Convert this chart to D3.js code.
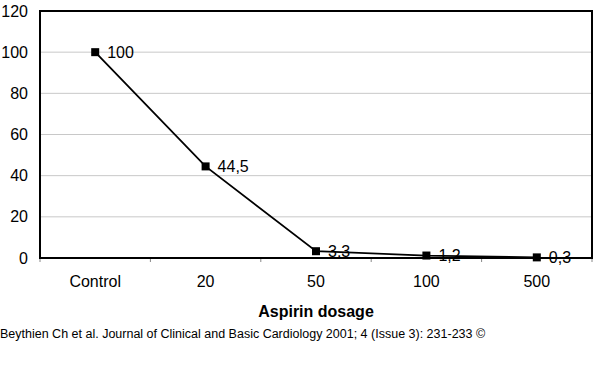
<!DOCTYPE html>
<html><head><meta charset="utf-8">
<script src="https://cdn.jsdelivr.net/npm/d3@7"></script>
<style>body{margin:0;background:#fff}svg{display:block}text{font-family:"Liberation Sans",Arial,sans-serif}</style>
</head><body>
<script>
const categories = ["Control","20","50","100","500"];
const values = [100, 44.5, 3.3, 1.2, 0.3];
const valueLabels = ["100","44,5","3,3","1,2","0,3"];
const yTicks = [0,20,40,60,80,100,120];
const xTitle = "Aspirin dosage";
const footer = "Beythien Ch et al. Journal of Clinical and Basic Cardiology 2001; 4 (Issue 3): 231-233 ©";

const W=600,H=383, L=40, R=592, T=11, B=258;
const svg=d3.select("body").append("svg").attr("width",W).attr("height",H);
const x=d3.scaleBand().domain(categories).range([L,R]);
const y=d3.scaleLinear().domain([0,120]).range([B,T]);

svg.append("g").selectAll("line").data(yTicks.filter(d=>d>0&&d<120)).join("line")
  .attr("x1",L).attr("x2",R).attr("y1",d=>y(d)).attr("y2",d=>y(d))
  .attr("stroke","#c8c8c8").attr("stroke-width",1);

const ya=svg.append("g").attr("transform",`translate(${L},0)`)
  .call(d3.axisLeft(y).tickValues(yTicks).tickSize(0).tickPadding(12));
ya.select(".domain").remove();
ya.selectAll("text").attr("font-size",16).attr("fill","#000").attr("font-family","Liberation Sans, Arial, sans-serif");

const xa=svg.append("g").attr("transform",`translate(0,${B})`)
  .call(d3.axisBottom(x).tickSize(0).tickPadding(18));
xa.select(".domain").remove();
xa.selectAll("text").attr("font-size",16).attr("fill","#000").attr("font-family","Liberation Sans, Arial, sans-serif");
svg.append("g").selectAll("line").data(categories.concat(["__end"])).join("line")
  .attr("x1",(d,i)=>i<categories.length?x(d):R).attr("x2",(d,i)=>i<categories.length?x(d):R)
  .attr("y1",B).attr("y2",B+4).attr("stroke","#888").attr("stroke-width",1);

svg.append("rect").attr("x",L).attr("y",T).attr("width",R-L).attr("height",B-T)
  .attr("fill","none").attr("stroke","#000").attr("stroke-width",2);

const cx=d=>x(d)+x.bandwidth()/2;
const line=d3.line().x((d,i)=>cx(categories[i])).y(d=>y(d));
svg.append("path").datum(values).attr("d",line).attr("fill","none").attr("stroke","#000").attr("stroke-width",1.8);
svg.append("g").selectAll("rect").data(values).join("rect")
  .attr("x",(d,i)=>cx(categories[i])-4).attr("y",d=>y(d)-4).attr("width",8).attr("height",8).attr("fill","#000");
svg.append("g").selectAll("text").data(values).join("text")
  .attr("x",(d,i)=>cx(categories[i])+12).attr("y",d=>y(d)).attr("dy","0.35em")
  .attr("font-size",16).text((d,i)=>valueLabels[i]);

svg.append("text").attr("x",(L+R)/2).attr("y",317).attr("text-anchor","middle")
  .attr("font-size",16).attr("font-weight","bold").text(xTitle);
svg.append("text").attr("x",0).attr("y",338).attr("font-size",12.5).text(footer);
</script>
</body></html>
